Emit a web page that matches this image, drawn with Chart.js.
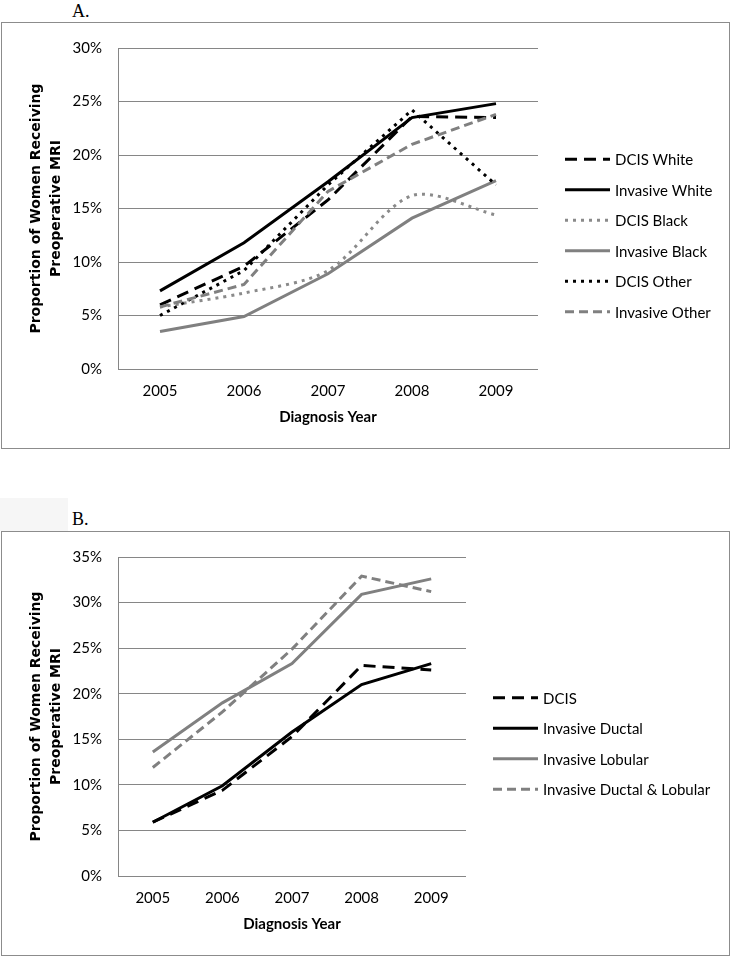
<!DOCTYPE html>
<html>
<head>
<meta charset="utf-8">
<script src="https://cdn.jsdelivr.net/npm/chart.js@4.4.1/dist/chart.umd.min.js"></script>
<style>
  body { margin: 0; background: #fff; width: 731px; height: 957px; position: relative; overflow: hidden; }
  .panel { position: absolute; left: 1px; width: 727px; border: 1px solid #8c8c8c; }
  .panel canvas { display: block; }
  .tag { position: absolute; left: 72px; font-family: "Liberation Serif", serif; font-size: 18px; color: #000; }
  .patch { position: absolute; left: 0; top: 498px; width: 68px; height: 33px; background: #f6f6f6; }
</style>
</head>
<body>
<div class="patch"></div>
<div class="tag" style="top:1px">A.</div>
<div class="panel" style="top:22px;height:425px"><canvas id="chartA" width="727" height="425"></canvas></div>
<div class="tag" style="top:509px">B.</div>
<div class="panel" style="top:531px;height:423px"><canvas id="chartB" width="727" height="423"></canvas></div>
<script>
// shared x axis
const years = ['2005', '2006', '2007', '2008', '2009'];

// Panel A: by race (percent)
const dcisWhite = [6.0, 9.6, 15.8, 23.6, 23.5];
const invasiveWhite = [7.3, 11.8, 17.5, 23.5, 24.8];
const dcisBlack = [5.8, 7.1, 9.2, 16.2, 14.4];
const invasiveBlack = [3.5, 4.9, 8.9, 14.1, 17.6];
const dcisOther = [5.0, 9.2, 17.2, 24.2, 17.2];
const invasiveOther = [5.8, 7.9, 16.6, 21.0, 23.8];
const ticksA = [0, 5, 10, 15, 20, 25, 30];

// Panel B: by histology (percent)
const dcisAll = [5.9, 9.4, 15.3, 23.1, 22.6];
const invasiveDuctal = [5.9, 9.9, 15.8, 21.0, 23.3];
const invasiveLobular = [13.6, 19.0, 23.3, 30.9, 32.6];
const ductalLobular = [11.9, 18.0, 24.9, 32.9, 31.2];
const ticksB = [0, 5, 10, 15, 20, 25, 30, 35];

const BLACK = '#000000';
const GREY = '#808080';
const LONG_DASH = [12, 7];
const SHORT_DASH = [9, 5];
const DOTS = [3, 5];

// legend drawn to the right of the plot, centred on the canvas
const sideLegend = {
    id: 'sideLegend',
    afterDraw(chart, args, opts) {
        const ctx = chart.ctx;
        const sets = chart.data.datasets;
        const x0 = chart.chartArea.right + opts.gap;
        const top = chart.height / 2 - (sets.length - 1) * opts.spacing / 2;
        ctx.save();
        ctx.font = '15px Lato, sans-serif';
        ctx.textBaseline = 'middle';
        sets.forEach((ds, i) => {
            const y = top + i * opts.spacing;
            ctx.beginPath();
            ctx.setLineDash(ds.borderDash || []);
            ctx.lineWidth = ds.borderWidth;
            ctx.strokeStyle = ds.borderColor;
            ctx.moveTo(x0, y);
            ctx.lineTo(x0 + opts.sample, y);
            ctx.stroke();
            ctx.fillStyle = '#000';
            ctx.fillText(ds.label, x0 + opts.sample + opts.textGap, y + 1);
        });
        ctx.restore();
    }
};

function series(label, data, color, dash, tension) {
    return {
        label: label,
        data: data,
        borderColor: color,
        backgroundColor: color,
        borderWidth: 3,
        borderDash: dash,
        borderCapStyle: 'butt',
        tension: tension || 0,
        pointRadius: 0,
        fill: false
    };
}

function makeChart(id, datasets, yTicks, rightPad) {
    const ctx = document.getElementById(id).getContext('2d');
    // later series sit on top, like the original
    datasets.forEach((ds, i) => { ds.order = datasets.length - i; });
    return new Chart(ctx, {
        type: 'line',
        data: { labels: years, datasets: datasets },
        plugins: [sideLegend],
        options: {
            responsive: false,
            animation: false,
            layout: { padding: { top: 19, right: rightPad, bottom: 19, left: 0 } },
            plugins: {
                legend: { display: false },
                tooltip: { enabled: false },
                sideLegend: { gap: 27, spacing: 30.5, sample: 45, textGap: 5 }
            },
            scales: {
                x: {
                    offset: true,
                    grid: { display: false, drawTicks: false },
                    border: { display: false },
                    ticks: { color: '#000', padding: 13, font: { family: 'Lato', size: 15 } },
                    title: {
                        display: true,
                        text: 'Diagnosis Year',
                        color: '#000',
                        font: { family: 'Lato', size: 15, weight: 'bold', lineHeight: 1.2 },
                        padding: { top: 0, bottom: 3 }
                    },
                    afterFit(scale) { scale.height = 60; }
                },
                y: {
                    min: yTicks[0],
                    max: yTicks[yTicks.length - 1],
                    grid: { color: '#868686', lineWidth: 1, drawTicks: false },
                    border: { display: true, color: '#868686', width: 1 },
                    afterBuildTicks(scale) { scale.ticks = yTicks.map(v => ({ value: v })); },
                    ticks: {
                        color: '#000',
                        padding: 16,
                        font: { family: 'Lato', size: 15 },
                        callback: v => v + '%'
                    },
                    title: {
                        display: true,
                        text: ['Proportion of Women Receiving', 'Preoperative MRI'],
                        color: '#000',
                        font: { family: 'DejaVu Sans', size: 14, weight: 'bold', lineHeight: '20px' },
                        padding: { top: 24, bottom: 0 }
                    },
                    afterFit(scale) { scale.width = 116; }
                }
            }
        }
    });
}

document.addEventListener('DOMContentLoaded', function() {
    makeChart('chartA', [
        series('DCIS White', dcisWhite, BLACK, LONG_DASH),
        series('Invasive White', invasiveWhite, BLACK, []),
        series('DCIS Black', dcisBlack, '#8a8a8a', DOTS, 0.3),
        series('Invasive Black', invasiveBlack, GREY, []),
        series('DCIS Other', dcisOther, BLACK, DOTS),
        series('Invasive Other', invasiveOther, GREY, SHORT_DASH)
    ], ticksA, 191);

    makeChart('chartB', [
        series('DCIS', dcisAll, BLACK, LONG_DASH),
        series('Invasive Ductal', invasiveDuctal, BLACK, []),
        series('Invasive Lobular', invasiveLobular, GREY, []),
        series('Invasive Ductal & Lobular', ductalLobular, GREY, SHORT_DASH)
    ], ticksB, 263);
});
</script>
</body>
</html>
